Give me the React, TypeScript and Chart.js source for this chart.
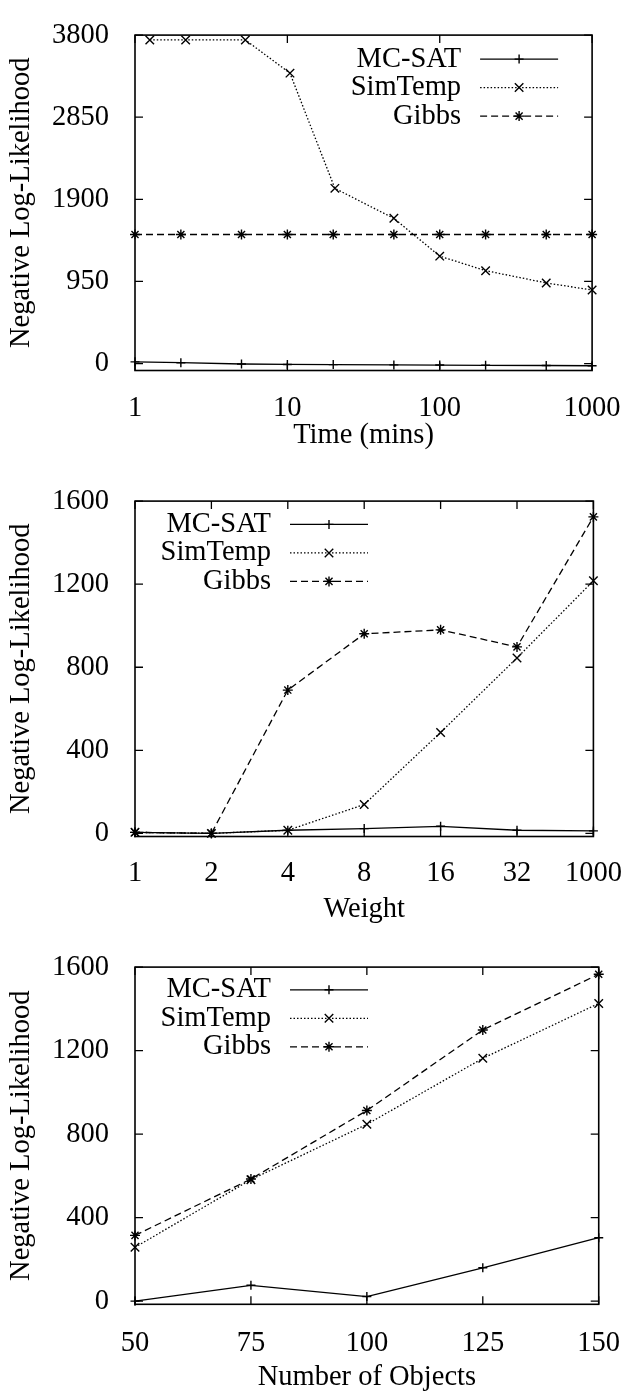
import React, { useEffect, useRef } from 'react';
import { Chart, registerables } from 'chart.js';

Chart.register(...registerables);

const FONT = '"Liberation Serif", "Times New Roman", Times, serif';
const FS = 28.5;

// ---------- Chart 1: Time (mins), log x ----------
const timeTicks = [1, 10, 100, 1000];
const timeMins = [1, 2, 5, 10, 20, 50, 100, 200, 500, 1000];
const simTempTimes = [1.25, 2.15, 5.3, 10.4, 20.5, 50, 100, 200, 500, 1000];
const mcsatByTime = [20, 10, -5, -10, -12, -15, -17, -20, -22, -25];
const simTempByTime = [3744, 3744, 3744, 3360, 2027, 1680, 1243, 1075, 933, 851];
const gibbsByTime = [1493, 1493, 1493, 1493, 1493, 1493, 1493, 1493, 1493, 1493];
const timeYTicks = [0, 950, 1900, 2850, 3800];

// ---------- Chart 2: Weight ----------
const weights = ['1', '2', '4', '8', '16', '32', '1000'];
const mcsatByWeight = [5, 0, 15, 23, 34, 15, 12];
const simTempByWeight = [5, 0, 15, 139, 486, 845, 1216];
const gibbsByWeight = [5, 0, 690, 961, 980, 898, 1524];
const weightYTicks = [0, 400, 800, 1200, 1600];

// ---------- Chart 3: Number of Objects ----------
const numObjects = [50, 75, 100, 125, 150];
const mcsatByObjects = [0, 76, 22, 160, 304];
const simTempByObjects = [258, 582, 847, 1163, 1426];
const gibbsByObjects = [315, 585, 913, 1299, 1566];
const objectsYTicks = [0, 400, 800, 1200, 1600];

const seriesNames = ['MC-SAT', 'SimTemp', 'Gibbs'];

const STYLES: any[] = [
  { borderDash: [], pointStyle: 'cross', pointRadius: 4.5 },
  { borderDash: [1.5, 2], pointStyle: 'crossRot', pointRadius: 6 },
  { borderDash: [7, 4], pointStyle: 'star', pointRadius: 5 },
];

function makeDataset(i: number, data: any[]) {
  const s = STYLES[i];
  return {
    label: seriesNames[i],
    data,
    borderColor: '#000',
    backgroundColor: '#000',
    borderWidth: 1.3,
    borderDash: s.borderDash,
    pointStyle: s.pointStyle,
    pointRadius: s.pointRadius,
    pointHoverRadius: s.pointRadius,
    pointBorderWidth: 1.4,
    pointBorderColor: '#000',
    pointBackgroundColor: '#000',
    tension: 0,
    fill: false,
    clip: false,
  };
}

function drawMarker(ctx: CanvasRenderingContext2D, style: string, x: number, y: number, r: number) {
  ctx.beginPath();
  if (style === 'cross' || style === 'star') {
    ctx.moveTo(x - r, y);
    ctx.lineTo(x + r, y);
    ctx.moveTo(x, y - r);
    ctx.lineTo(x, y + r);
  }
  if (style === 'crossRot' || style === 'star') {
    const d = r * Math.SQRT1_2;
    ctx.moveTo(x - d, y - d);
    ctx.lineTo(x + d, y + d);
    ctx.moveTo(x - d, y + d);
    ctx.lineTo(x + d, y - d);
  }
  ctx.stroke();
}

const framePlugin = {
  id: 'gpFrame',
  afterDatasetsDraw(chart: any) {
    const { ctx, chartArea: a, scales } = chart;
    ctx.save();
    ctx.strokeStyle = '#000';
    ctx.setLineDash([]);
    ctx.lineWidth = 1.6;
    ctx.strokeRect(a.left, a.top, a.right - a.left, a.bottom - a.top);
    const L = 8;
    ctx.lineWidth = 1.3;
    ctx.beginPath();
    for (const t of scales.x.ticks) {
      const px = scales.x.getPixelForValue(t.value);
      ctx.moveTo(px, a.bottom);
      ctx.lineTo(px, a.bottom - L);
      ctx.moveTo(px, a.top);
      ctx.lineTo(px, a.top + L);
    }
    for (const t of scales.y.ticks) {
      const py = scales.y.getPixelForValue(t.value);
      ctx.moveTo(a.left, py);
      ctx.lineTo(a.left + L, py);
      ctx.moveTo(a.right, py);
      ctx.lineTo(a.right - L, py);
    }
    ctx.stroke();
    ctx.restore();
  },
};

const legendPlugin = {
  id: 'gpLegend',
  afterDraw(chart: any, _args: any, opts: any) {
    const { ctx, chartArea: a } = chart;
    const textRight = opts.side === 'right' ? a.right - 131 : a.left + 136;
    ctx.save();
    ctx.font = `${FS}px ${FONT}`;
    ctx.fillStyle = '#000';
    ctx.strokeStyle = '#000';
    ctx.textAlign = 'right';
    ctx.textBaseline = 'middle';
    chart.data.datasets.forEach((ds: any, i: number) => {
      const y = a.top + opts.top + i * 28.5;
      ctx.fillText(ds.label, textRight, y);
      const x0 = textRight + 19;
      const x1 = textRight + 97;
      ctx.lineWidth = ds.borderWidth;
      ctx.setLineDash(ds.borderDash || []);
      ctx.beginPath();
      ctx.moveTo(x0, y);
      ctx.lineTo(x1, y);
      ctx.stroke();
      ctx.setLineDash([]);
      ctx.lineWidth = ds.pointBorderWidth;
      drawMarker(ctx, ds.pointStyle, (x0 + x1) / 2, y, ds.pointRadius);
    });
    ctx.restore();
  },
};

function buildConfig(p: any): any {
  const font = { family: FONT, size: FS };
  const titleFont = { family: FONT, size: FS, lineHeight: 1 };
  return {
    type: 'line',
    data: { labels: p.labels, datasets: p.datasets },
    plugins: [framePlugin, legendPlugin],
    options: {
      animation: false,
      responsive: true,
      maintainAspectRatio: false,
      devicePixelRatio: 1,
      events: [],
      layout: { padding: { top: p.padTop, right: 31, bottom: p.padBottom, left: 0 } },
      plugins: {
        legend: { display: false },
        tooltip: { enabled: false },
        gpLegend: { side: p.legendSide, top: p.legendTop },
      },
      scales: {
        x: {
          ...p.xScale,
          grid: { display: false },
          border: { display: false },
          afterFit: (s: any) => {
            s.height = p.xAxisH;
          },
          ticks: {
            ...(p.xScale.ticks || {}),
            color: '#000',
            font,
            padding: p.xTickPad,
            maxRotation: 0,
            minRotation: 0,
            autoSkip: false,
          },
          title: {
            display: true,
            text: p.xTitle,
            color: '#000',
            font: titleFont,
            padding: { top: 0, bottom: 0 },
          },
        },
        y: {
          type: 'linear',
          min: p.yMin,
          max: p.yMax,
          afterBuildTicks: (s: any) => {
            s.ticks = p.yTicks.map((v: number) => ({ value: v }));
          },
          afterFit: (s: any) => {
            s.width = 135;
          },
          grid: { display: false },
          border: { display: false },
          ticks: {
            color: '#000',
            font,
            padding: 18,
            callback: (v: any) => String(v),
          },
          title: {
            display: true,
            text: 'Negative Log-Likelihood',
            color: '#000',
            font: titleFont,
            padding: { top: 7.75, bottom: 0 },
          },
        },
      },
    },
  };
}

function config1() {
  return buildConfig({
    labels: undefined,
    datasets: [
      makeDataset(0, timeMins.map((x, i) => ({ x, y: mcsatByTime[i] }))),
      makeDataset(1, simTempTimes.map((x, i) => ({ x, y: simTempByTime[i] }))),
      makeDataset(2, timeMins.map((x, i) => ({ x, y: gibbsByTime[i] }))),
    ],
    xScale: {
      type: 'logarithmic',
      min: 1,
      max: 1000,
      afterBuildTicks: (s: any) => {
        s.ticks = timeTicks.map((v) => ({ value: v }));
      },
      ticks: { callback: (v: any) => String(v) },
    },
    yMin: -80,
    yMax: 3800,
    yTicks: timeYTicks,
    xTitle: 'Time (mins)',
    padTop: 20,
    padBottom: 15.75,
    xAxisH: 79.75,
    xTickPad: 13.4,
    legendSide: 'right',
    legendTop: 24,
  });
}

function config2() {
  return buildConfig({
    labels: weights,
    datasets: [
      makeDataset(0, mcsatByWeight),
      makeDataset(1, simTempByWeight),
      makeDataset(2, gibbsByWeight),
    ],
    xScale: { type: 'category', offset: false },
    yMin: -15,
    yMax: 1600,
    yTicks: weightYTicks,
    xTitle: 'Weight',
    padTop: 20,
    padBottom: 7.75,
    xAxisH: 87.75,
    xTickPad: 12.1,
    legendSide: 'left',
    legendTop: 23.3,
  });
}

function config3() {
  return buildConfig({
    labels: undefined,
    datasets: [
      makeDataset(0, numObjects.map((x, i) => ({ x, y: mcsatByObjects[i] }))),
      makeDataset(1, numObjects.map((x, i) => ({ x, y: simTempByObjects[i] }))),
      makeDataset(2, numObjects.map((x, i) => ({ x, y: gibbsByObjects[i] }))),
    ],
    xScale: {
      type: 'linear',
      min: 50,
      max: 150,
      afterBuildTicks: (s: any) => {
        s.ticks = numObjects.map((v) => ({ value: v }));
      },
      ticks: { callback: (v: any) => String(v) },
    },
    yMin: -15,
    yMax: 1600,
    yTicks: objectsYTicks,
    xTitle: 'Number of Objects',
    padTop: 22,
    padBottom: 0.75,
    xAxisH: 87.95,
    xTickPad: 13.9,
    legendSide: 'left',
    legendTop: 22.7,
  });
}

function ChartBox({ make, top, height }: { make: () => any; top: number; height: number }) {
  const ref = useRef<HTMLCanvasElement>(null);
  useEffect(() => {
    const chart = new Chart(ref.current as HTMLCanvasElement, make());
    return () => chart.destroy();
  }, [make]);
  return (
    <div style={{ position: 'absolute', left: 0, top, width: 634, height }}>
      <canvas ref={ref} />
    </div>
  );
}

export default function App() {
  return (
    <div style={{ position: 'absolute', left: 0, top: 0, width: 634, height: 1393, background: '#fff' }}>
      <ChartBox make={config1} top={0} height={466} />
      <ChartBox make={config2} top={466} height={466} />
      <ChartBox make={config3} top={932} height={461} />
    </div>
  );
}
